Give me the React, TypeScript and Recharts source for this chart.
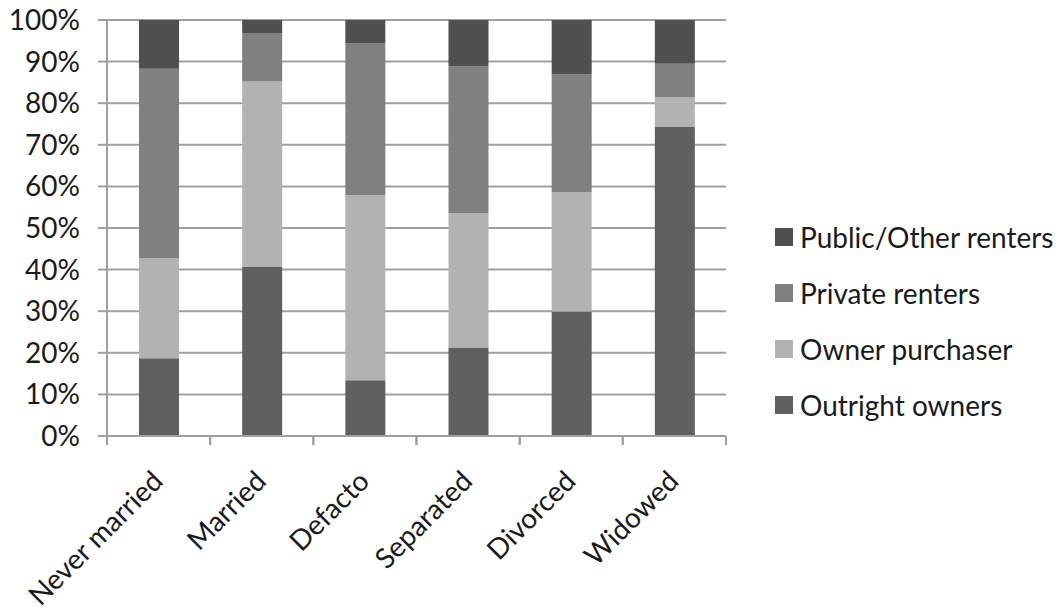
import { BarChart, Bar, XAxis, YAxis, CartesianGrid, Legend } from 'recharts'

const categories = ['Never married', 'Married', 'Defacto', 'Separated', 'Divorced', 'Widowed']

// shares in percent, stacked bottom to top
const outrightOwners = [18.7, 40.6, 13.4, 21.3, 29.9, 74.4]
const ownerPurchaser = [24.1, 44.6, 44.5, 32.3, 28.7, 7.1]
const privateRenters = [45.5, 11.7, 36.6, 35.2, 28.3, 8.0]
const publicOtherRenters = [11.7, 3.1, 5.5, 11.2, 13.1, 10.5]

const yTicks = [0, 10, 20, 30, 40, 50, 60, 70, 80, 90, 100]

const series = [
  { key: 'outright', name: 'Outright owners', color: '#606060' },
  { key: 'owner', name: 'Owner purchaser', color: '#b2b2b2' },
  { key: 'private', name: 'Private renters', color: '#808080' },
  { key: 'public', name: 'Public/Other renters', color: '#4f4f4f' },
]

const data = categories.map((name, i) => ({
  name,
  outright: outrightOwners[i],
  owner: ownerPurchaser[i],
  private: privateRenters[i],
  public: publicOtherRenters[i],
}))

const FONT = 'Lato, "Open Sans", sans-serif'
const FONT_SIZE = 28
const AXIS_GREY = '#a0a0a0'
const LEGEND_W = 284

function CategoryTick(props: any) {
  const { x, y, payload } = props
  const half = payload?.offset ?? 51.5
  const tx = x + 6
  const ty = y + 47
  return (
    <g>
      <line x1={x - half} y1={y} x2={x - half} y2={y + 9} stroke={AXIS_GREY} strokeWidth={2} />
      <line x1={x + half} y1={y} x2={x + half} y2={y + 9} stroke={AXIS_GREY} strokeWidth={2} />
      <text
        x={tx}
        y={ty}
        textAnchor="end"
        transform={`rotate(-45, ${tx}, ${ty})`}
        fill="#1a1a1a"
        fontSize={FONT_SIZE}
        fontFamily={FONT}
      >
        {payload.value}
      </text>
    </g>
  )
}

function LegendList() {
  const items = [...series].reverse()
  return (
    <div style={{ fontFamily: FONT, fontSize: FONT_SIZE, color: '#1a1a1a' }}>
      {items.map((s) => (
        <div key={s.key} style={{ height: 56, display: 'flex', alignItems: 'center' }}>
          <span
            style={{
              display: 'inline-block',
              width: 18,
              height: 18,
              background: s.color,
              marginRight: 7,
            }}
          />
          <span style={{ whiteSpace: 'nowrap' }}>{s.name}</span>
        </div>
      ))}
    </div>
  )
}

export default function App() {
  return (
    <div style={{ position: 'absolute', left: 0, top: 0, background: '#fff' }}>
      <BarChart
        width={1059}
        height={614}
        data={data}
        // the legend box width is added to the right offset
        margin={{ top: 20, right: 333 - LEGEND_W, bottom: 0, left: 0 }}
        barSize={40}
      >
        <CartesianGrid vertical={false} stroke={AXIS_GREY} strokeWidth={2} />
        <XAxis
          dataKey="name"
          height={178}
          tickSize={0}
          tickMargin={0}
          tickLine={false}
          axisLine={{ stroke: AXIS_GREY, strokeWidth: 2 }}
          tick={<CategoryTick />}
          interval={0}
        />
        <YAxis
          width={107}
          domain={[0, 100]}
          ticks={yTicks}
          tickFormatter={(v: number) => `${v}%`}
          tickSize={9}
          tickMargin={18}
          tickLine={{ stroke: AXIS_GREY, strokeWidth: 2 }}
          axisLine={{ stroke: AXIS_GREY, strokeWidth: 2 }}
          tick={{ fill: '#1a1a1a', fontSize: FONT_SIZE, fontFamily: FONT }}
          interval={0}
        />
        <Legend
          layout="horizontal"
          verticalAlign="middle"
          align="right"
          wrapperStyle={{ left: 775, top: 209, width: LEGEND_W }}
          content={() => <LegendList />}
        />
        {series.map((s) => (
          <Bar
            key={s.key}
            dataKey={s.key}
            name={s.name}
            stackId="tenure"
            fill={s.color}
            isAnimationActive={false}
          />
        ))}
      </BarChart>
    </div>
  )
}
